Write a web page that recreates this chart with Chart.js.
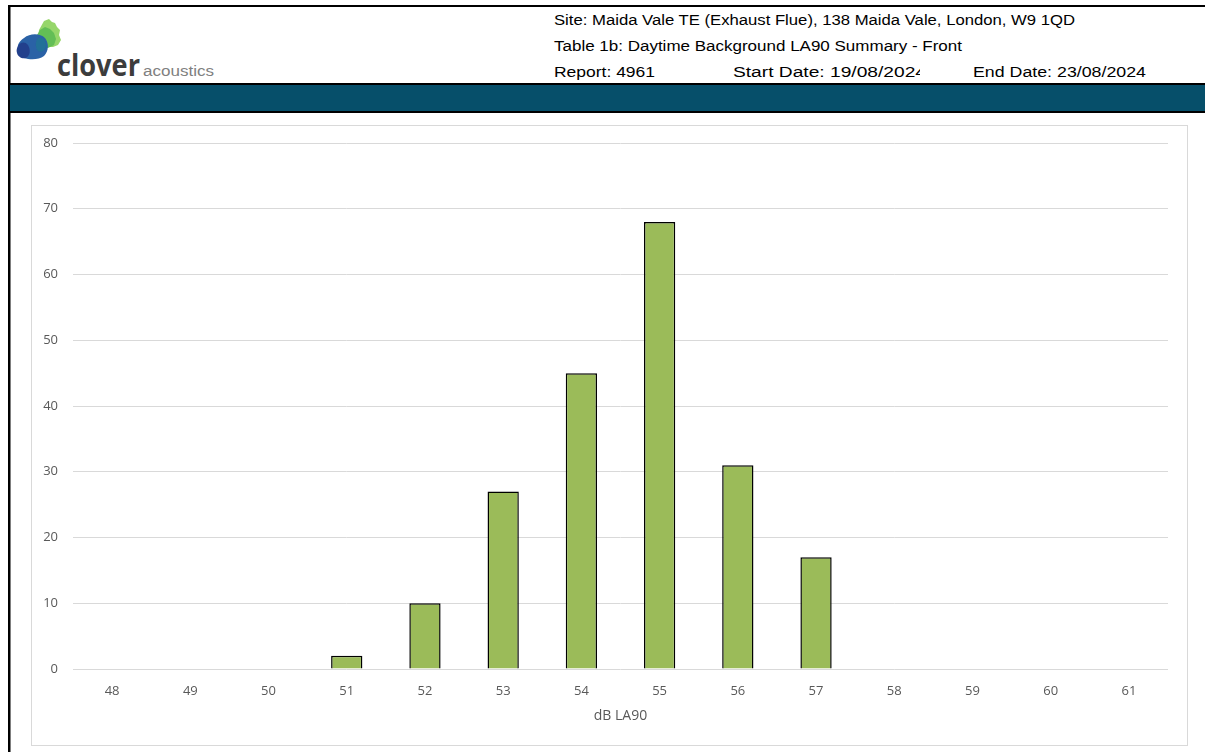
<!DOCTYPE html>
<html>
<head>
<meta charset="utf-8">
<script src="https://cdn.jsdelivr.net/npm/chart.js@4"></script>
<style>
  html, body { margin: 0; padding: 0; background: #fff; }
  body { width: 1205px; height: 752px; position: relative; overflow: hidden; font-family: "Liberation Sans", Arial, sans-serif; }
  #head { position: absolute; left: 0; top: 0; }
  #frame { position: absolute; left: 31px; top: 125px; width: 1155px; height: 619px; border: 1px solid #D9D9D9; box-sizing: content-box; }
  #chartBox { position: absolute; left: 32px; top: 126px; width: 1154px; height: 618px; }
</style>
</head>
<body>
<svg id="head" width="1205" height="752" xmlns="http://www.w3.org/2000/svg">
  <defs>
    <clipPath id="startClip"><rect x="700" y="55" width="220" height="30"/></clipPath>
    <filter id="soft" x="-20%" y="-20%" width="140%" height="140%"><feGaussianBlur stdDeviation="0.6"/></filter>
  </defs>
  <!-- page borders -->
  <rect x="8" y="5" width="1197" height="2" fill="#000"/>
  <rect x="8" y="5" width="2.5" height="747" fill="#000"/>
  <!-- title band -->
  <rect x="10" y="83" width="1195" height="2" fill="#000"/>
  <rect x="10" y="85" width="1195" height="26" fill="#064F6A"/>
  <rect x="10" y="111" width="1195" height="2" fill="#000"/>

  <!-- logo mark: overlapping leaf shapes -->
  <g filter="url(#soft)">
    <path d="M44,21 L49,19 L52,22 L55,23 L57,27 L60,30 L59,35 L61,40 L58,45 L53,47 L47,47 L41,44 L38,38 L39,30 Z" fill="#96D66A"/>
    <path d="M40,30 L45,27 L50,29 L54,33 L56,39 L54,45 L48,48 L41,47 L37,41 L37,35 Z" fill="#5DBB54" opacity="0.9"/>
    <path d="M24,38 C30,33 40,33 45,38 C49,43 49,51 44,56 C39,60 30,60 24,58 C19,56 17,50 18,45 C19,42 21,40 24,38 Z" fill="#2A62A6"/>
    <path d="M18,46 C20,42 25,41 28,45 C31,50 30,56 26,58 C22,59 18,57 17,53 C16,50 17,48 18,46 Z" fill="#243F8C"/>
    <path d="M38,38 C42,37 46,40 46,45 C46,50 42,53 38,51 C35,48 35,41 38,38 Z" fill="#1D7A8C" opacity="0.55"/>
  </g>
  <text x="57" y="76" font-family="'Open Sans', 'Liberation Sans', sans-serif" font-weight="bold" font-size="30" fill="#3C3C3C" textLength="83" lengthAdjust="spacingAndGlyphs">clover</text>
  <text x="143" y="76" font-family="'Liberation Sans Narrow', 'Liberation Sans', sans-serif" font-size="14" fill="#808080" textLength="71" lengthAdjust="spacingAndGlyphs">acoustics</text>

  <!-- report header -->
  <g font-family="'Liberation Sans', Arial, sans-serif" font-size="14" fill="#000">
    <text x="554" y="25" textLength="521" lengthAdjust="spacingAndGlyphs">Site: Maida Vale TE (Exhaust Flue), 138 Maida Vale, London, W9 1QD</text>
    <text x="554" y="51" textLength="408" lengthAdjust="spacingAndGlyphs">Table 1b: Daytime Background LA90 Summary - Front</text>
    <text x="554" y="77" textLength="101" lengthAdjust="spacingAndGlyphs">Report: 4961</text>
    <text x="733" y="77" textLength="193" lengthAdjust="spacingAndGlyphs" clip-path="url(#startClip)">Start Date: 19/08/2024</text>
    <text x="973" y="77" textLength="173" lengthAdjust="spacingAndGlyphs">End Date: 23/08/2024</text>
  </g>
</svg>
<div id="frame"></div>
<div id="chartBox"><canvas id="c"></canvas></div>
<script>
// LA90 level bins (dB) and the number of daytime periods in each
const levels = ['48', '49', '50', '51', '52', '53', '54', '55', '56', '57', '58', '59', '60', '61'];
const counts = [0, 0, 0, 2, 10, 27, 45, 68, 31, 17, 0, 0, 0, 0];
const yTicks = [0, 10, 20, 30, 40, 50, 60, 70, 80];
const xTitle = 'dB LA90';

const tickFont = { family: "'Open Sans', 'DejaVu Sans', sans-serif", size: 13 };

new Chart(document.getElementById('c'), {
  type: 'bar',
  data: {
    labels: levels,
    datasets: [{
      data: counts,
      backgroundColor: '#9BBB59',
      borderColor: '#000000',
      borderWidth: 1.5,
      categoryPercentage: 1.0,
      barPercentage: 0.4
    }]
  },
  options: {
    responsive: true,
    maintainAspectRatio: false,
    animation: false,
    layout: { padding: { top: 17, right: 18, bottom: 0, left: 0 } },
    plugins: { legend: { display: false }, tooltip: { enabled: false } },
    scales: {
      x: {
        grid: { display: false },
        border: { display: false },
        ticks: { color: '#595959', font: tickFont, padding: 6, maxRotation: 0 },
        title: { display: true, text: xTitle, color: '#595959', font: { family: tickFont.family, size: 14 }, padding: { top: 4, bottom: 20 } },
        afterFit: (s) => { s.height = 75; }
      },
      y: {
        min: 0,
        max: 80,
        afterBuildTicks: (s) => { s.ticks = yTicks.map(v => ({ value: v })); },
        grid: { color: '#D9D9D9', lineWidth: 1, drawTicks: false },
        border: { display: false },
        ticks: { color: '#595959', font: tickFont, padding: 15 },
        afterFit: (s) => { s.width = 41; s.paddingTop = 0; s.paddingBottom = 0; }
      }
    }
  }
});
</script>
</body>
</html>
